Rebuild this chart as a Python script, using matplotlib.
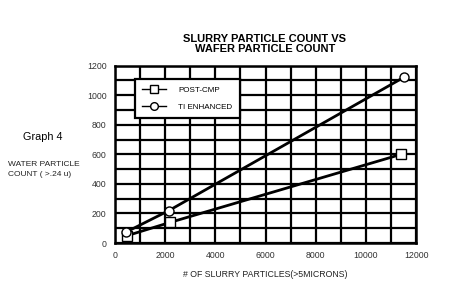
import matplotlib
matplotlib.use("Agg")
import matplotlib.pyplot as plt

post_cmp_x = [480, 2200, 11400]
post_cmp_y = [50, 140, 600]
ti_x = [450, 2150, 11500]
ti_y = [75, 220, 1120]
x_ticks = [0, 2000, 4000, 6000, 8000, 10000, 12000]
y_ticks = [0, 200, 400, 600, 800, 1000, 1200]

plt.rcParams['font.family'] = ['Liberation Sans', 'DejaVu Sans']

fig = plt.figure(figsize=(4.49, 3.05), dpi=100)
ax = fig.add_axes([0.256, 0.203, 0.671, 0.582])

ax.plot(post_cmp_x, post_cmp_y, color='black', lw=2, marker='s', ms=6.5,
        mfc='white', mec='black', mew=1, label='POST-CMP')
ax.plot(ti_x, ti_y, color='black', lw=2, marker='o', ms=6.5,
        mfc='white', mec='black', mew=1, label='TI ENHANCED')

ax.set_xlim(0, 12000)
ax.set_ylim(0, 1200)
ax.set_xticks(x_ticks)
ax.set_yticks(y_ticks)
ax.set_xticks(range(0, 12001, 1000), minor=True)
ax.set_yticks(range(0, 1201, 100), minor=True)
ax.grid(which='both', color='black', lw=1.6)
ax.set_axisbelow(True)
ax.tick_params(which='both', length=0, labelsize=6.3, pad=6)
for lab in ax.get_xticklabels() + ax.get_yticklabels():
    lab.set_color('#333333')
for s in ax.spines.values():
    s.set_linewidth(1.8)

leg = ax.legend(loc='upper left', bbox_to_anchor=(0.053, 0.945), fontsize=5.8,
                frameon=True, fancybox=False, edgecolor='black', framealpha=1,
                borderpad=0.9, labelspacing=1.1, handlelength=3.0, handletextpad=1.5,
                markerscale=0.85)
leg.get_frame().set_linewidth(1.6)
for h in leg.get_lines():
    h.set_linewidth(1)

fig.text(0.59, 0.856, "SLURRY PARTICLE COUNT VS\nWAFER PARTICLE COUNT", ha='center',
         va='center', fontsize=8, fontweight='bold', linespacing=1.05)
fig.text(0.095, 0.55, "Graph 4", ha='center', va='center', fontsize=7.8)
fig.text(0.018, 0.444, "WATER PARTICLE\nCOUNT ( >.24 u)", ha='left', va='center',
         fontsize=6, linespacing=1.5, color='#222222')
fig.text(0.59, 0.10, "# OF SLURRY PARTICLES(>5MICRONS)", ha='center', va='center',
         fontsize=6.3, color='#222222')

fig.savefig("out.png", dpi=100)
